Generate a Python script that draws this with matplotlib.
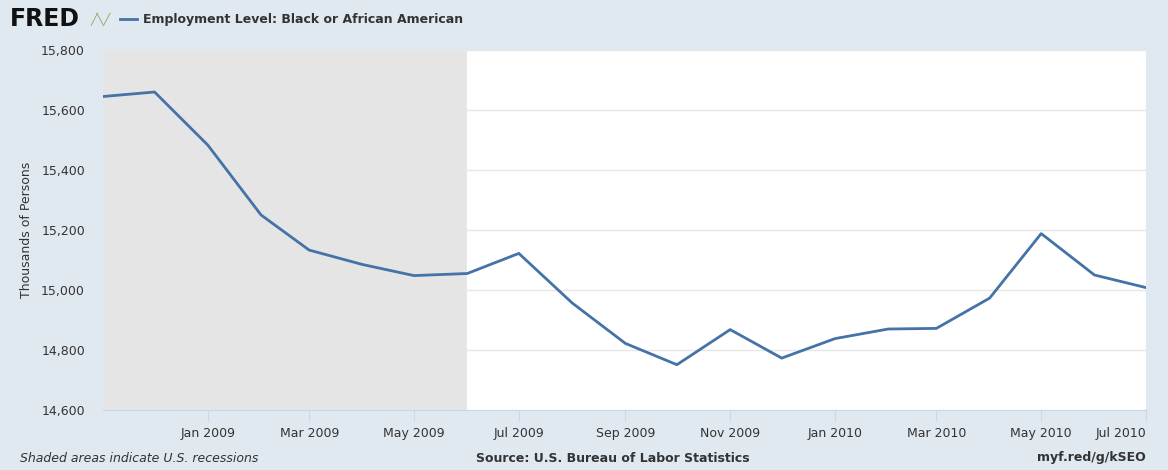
import matplotlib
matplotlib.use("Agg")
import matplotlib.pyplot as plt
import pandas as pd

months = pd.date_range("2008-11-01", "2010-07-01", freq="MS")
employment = [15645, 15660, 15483, 15250, 15133, 15085, 15048, 15055, 15122, 14957,
              14822, 14751, 14868, 14773, 14838, 14870, 14872, 14973, 15188, 15050, 15008]
recession_start = pd.Timestamp("2008-11-01")
recession_end = pd.Timestamp("2009-06-01")
tick_dates = pd.date_range("2009-01-01", "2010-07-01", freq="2MS")
tick_labels = [d.strftime("%b %Y") for d in tick_dates]
yticks = [14600, 14800, 15000, 15200, 15400, 15600, 15800]

bg = "#e1e9f0"
line_color = "#4572a7"
text_color = "#333333"

fig = plt.figure(figsize=(11.68, 4.70), dpi=100, facecolor=bg)
ax = fig.add_axes([103/1168, 60/470, (1146-103)/1168, 360/470])
ax.set_facecolor("white")

ax.axvspan(recession_start, recession_end, color="#e5e5e5", zorder=0, lw=0)
ax.plot(months, employment, color=line_color, lw=2, zorder=3)

ax.set_xlim(months[0], months[-1])
ax.set_ylim(14600, 15800)
ax.set_yticks(yticks)
ax.set_yticklabels([f"{v:,}" for v in yticks])
ax.set_xticks(tick_dates)
ax.set_xticklabels(tick_labels)
ax.get_xticklabels()[-1].set_ha("right")
ax.grid(axis="y", color="#e6e6e6", lw=1, zorder=1)
ax.set_axisbelow(True)

for s in ["top", "right", "left"]:
    ax.spines[s].set_visible(False)
ax.spines["bottom"].set_color("#ccd6eb")
ax.tick_params(axis="y", length=0, pad=13, labelsize=9, labelcolor=text_color)
ax.tick_params(axis="x", length=8, color="#ccd6eb", pad=4, labelsize=9, labelcolor=text_color)
ax.set_ylabel("Thousands of Persons", fontsize=9, color=text_color, labelpad=6)

fig.text(10/1168, 1 - 19/470, "FRED", fontsize=17, fontweight="bold", color="#111111", va="center")
fig.text(90/1168, 1 - 19/470, "\u2571\u2572\u2571", fontsize=8, color="#7fae6a", va="center")
fig.lines.append(plt.Line2D([120/1168, 137/1168], [1 - 19/470, 1 - 19/470],
                            transform=fig.transFigure, color=line_color, lw=2))
fig.text(143/1168, 1 - 19/470, "Employment Level: Black or African American",
         fontsize=9, fontweight="bold", color=text_color, va="center")

fig.text(20/1168, 1 - 458/470, "Shaded areas indicate U.S. recessions",
         fontsize=9, style="italic", color=text_color, va="center")
fig.text(476/1168, 1 - 458/470, "Source: U.S. Bureau of Labor Statistics",
         fontsize=9, fontweight="bold", color=text_color, va="center")
fig.text(1146/1168, 1 - 458/470, "myf.red/g/kSEO",
         fontsize=9, fontweight="bold", color=text_color, va="center", ha="right")

fig.savefig("out.png", dpi=100, facecolor=bg)
